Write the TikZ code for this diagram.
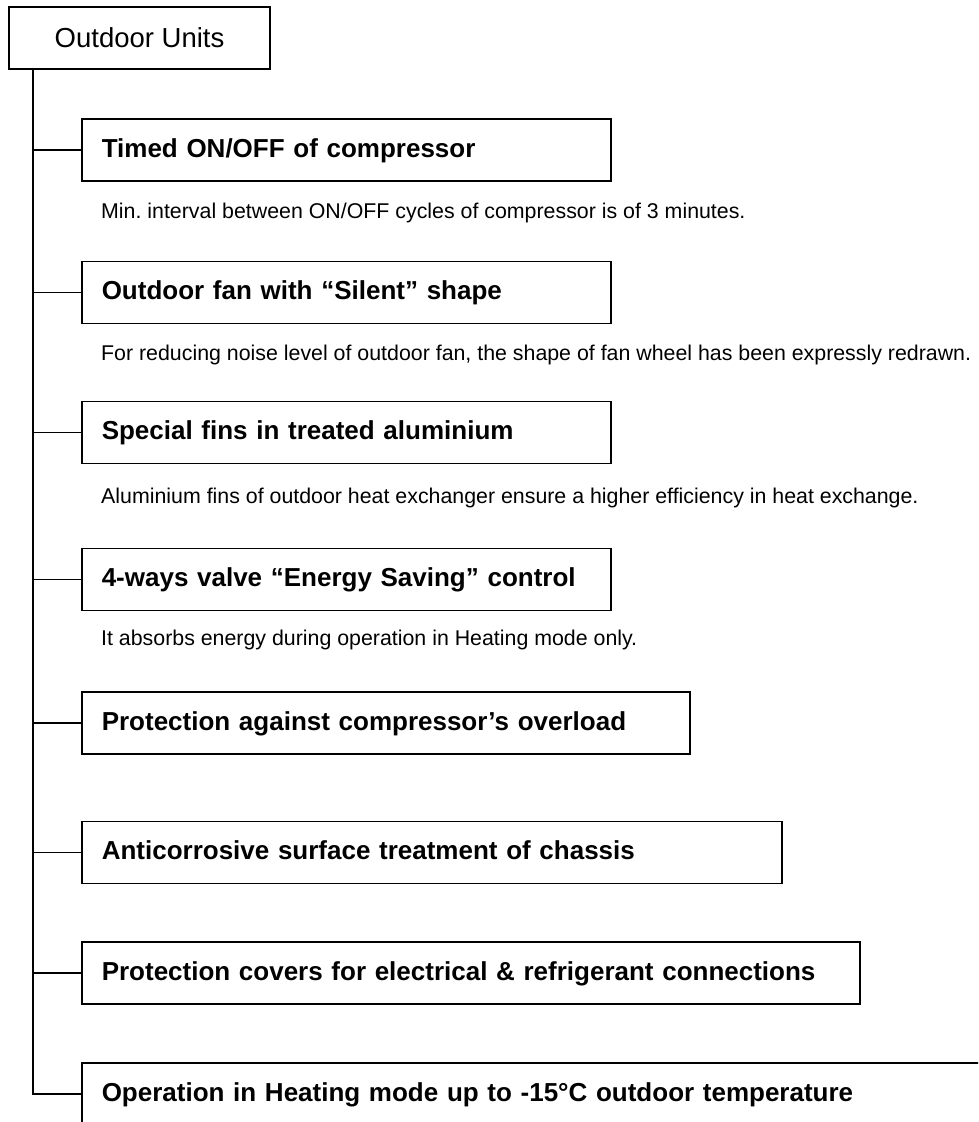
\documentclass[tikz,border=0pt]{standalone}
\usepackage{fontspec}
\setmainfont{Liberation Sans}
\frenchspacing
\begin{document}
\begin{tikzpicture}[x=1pt,y=-1pt,
  line/.style={line width=1.5pt,black},
  topbox/.style={draw,line width=1.5pt,minimum width=261pt,minimum height=62pt,inner sep=0pt,
    font=\fontsize{27.5}{32}\selectfont},
  itembox/.style={draw,line width=1.5pt,anchor=west,minimum height=62pt,inner xsep=20pt,inner ysep=0pt,
    align=left,text height=19pt,text depth=5pt,font=\fontsize{26}{30}\selectfont\bfseries},
  desc/.style={anchor=base west,inner sep=0pt,font=\fontsize{21.35}{25}\selectfont}]
\clip (0,0) rectangle (978,1122);
\useasboundingbox (0,0) rectangle (978,1122);
\coordinate (trunk) at (33,0);
\node[topbox] (top) at (139.5,38) {Outdoor Units};
\node[itembox,text width=489pt] (b1) at (81,150) {Timed ON/OFF of compressor};
\node[itembox,text width=489pt] (b2) at (81,292.5) {Outdoor fan with “Silent” shape};
\node[itembox,text width=489pt] (b3) at (81,432.5) {Special fins in treated aluminium};
\node[itembox,text width=489pt] (b4) at (81,579.5) {4-ways valve “Energy Saving” control};
\node[itembox,text width=568pt] (b5) at (81,723) {Protection against compressor’s overload};
\node[itembox,text width=660pt] (b6) at (81,852.5) {Anticorrosive surface treatment of chassis};
\node[itembox,text width=738pt] (b7) at (81,973) {Protection covers for electrical \& refrigerant connections};
\node[itembox,text width=879pt] (b8) at (81,1094) {Operation in Heating mode up to -15°C outdoor temperature};
\node[desc] (d1) at (101,218) {Min. interval between ON/OFF cycles of compressor is of 3 minutes.};
\node[desc] (d2) at (101,360) {For reducing noise level of outdoor fan, the shape of fan wheel has been expressly redrawn.};
\node[desc] (d3) at (101,503) {Aluminium fins of outdoor heat exchanger ensure a higher efficiency in heat exchange.};
\node[desc] (d4) at (101,645) {It absorbs energy during operation in Heating mode only.};
\draw[line] (trunk |- top.south) -- (trunk |- b8.west) -- (b8.west);
\foreach \b in {b1,b2,b3,b4,b5,b6,b7}{
  \draw[line] (trunk |- \b.west) -- (\b.west);
}
\end{tikzpicture}
\end{document}
